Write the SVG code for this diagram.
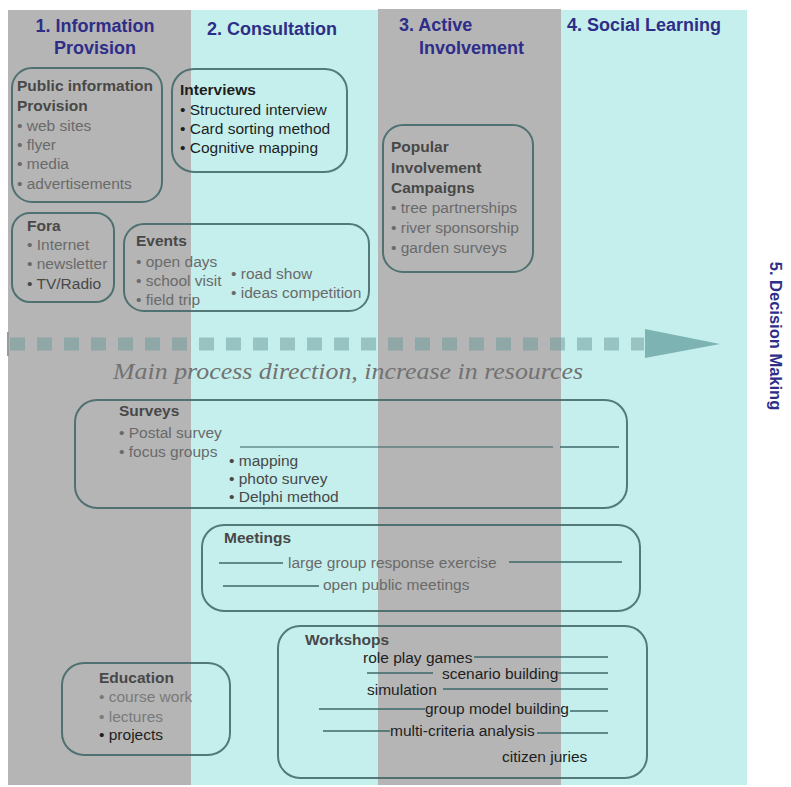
<svg xmlns="http://www.w3.org/2000/svg" width="791" height="787" viewBox="0 0 791 787">
<style>
.hdr{font-family:"Liberation Sans",Arial,sans-serif;font-weight:bold;font-size:18px;fill:#2e2e88}
.box{fill:none;stroke:#3e6565;stroke-opacity:0.85;stroke-width:2}
.t{font-family:"Liberation Sans",Arial,sans-serif;font-size:15.5px}
.b{font-weight:bold}
.g{fill:#6a6a6a}
.d{fill:#484848}
.k{fill:#1e1e1e}
.ln{stroke:#3d6868;stroke-width:1.5;fill:none}
</style>
<rect x="0" y="0" width="791" height="787" fill="#ffffff"/>
<g id="columns">
<rect x="8" y="10" width="183" height="775" fill="#b5b5b5"/>
<rect x="191" y="10" width="187" height="775" fill="#c5efec"/>
<rect x="378" y="9" width="183" height="776" fill="#b5b5b5"/>
<rect x="561" y="10" width="186" height="775" fill="#c5efec"/>
</g>
<g id="headers">
<text class="hdr" x="95" y="32" text-anchor="middle">1. Information</text>
<text class="hdr" x="95" y="54" text-anchor="middle">Provision</text>
<text class="hdr" x="207" y="35">2. Consultation</text>
<text class="hdr" x="399" y="31">3. Active</text>
<text class="hdr" x="419" y="54">Involvement</text>
<text class="hdr" x="567" y="31">4. Social Learning</text>
<text class="hdr" transform="translate(770,336) rotate(90)" text-anchor="middle" style="font-size:16.5px">5. Decision Making</text>
</g>
<g id="connectors">
<path d="M8 332 V356" stroke="#9a9a9a" stroke-width="2"/>
<line x1="10" y1="344" x2="644" y2="344" stroke="#6a9a9a" stroke-opacity="0.5" stroke-width="13" stroke-dasharray="15 12"/>
<polygon points="645,329 720,344 645,358" fill="#6aa4a4" fill-opacity="0.8"/>
<line class="ln" x1="240" y1="447" x2="553" y2="447" stroke-opacity="0.7"/>
<line class="ln" x1="560" y1="447" x2="619" y2="447" stroke-width="2"/>
<line class="ln" x1="219" y1="563" x2="283" y2="563"/>
<line class="ln" x1="509" y1="562" x2="622" y2="562"/>
<line class="ln" x1="223" y1="586" x2="319" y2="586"/>
<line class="ln" x1="474" y1="657" x2="608" y2="657"/>
<line class="ln" x1="367" y1="673" x2="433" y2="673"/>
<line class="ln" x1="558" y1="673" x2="608" y2="673"/>
<line class="ln" x1="443" y1="689" x2="608" y2="689"/>
<line class="ln" x1="319" y1="709" x2="425" y2="709"/>
<line class="ln" x1="570" y1="711" x2="608" y2="711"/>
<line class="ln" x1="323" y1="731" x2="390" y2="731"/>
<line class="ln" x1="537" y1="733" x2="608" y2="733"/>
</g>
<text x="348" y="379" text-anchor="middle" font-family="'Liberation Serif','Times New Roman',serif" font-style="italic" font-size="23" fill="#727272" textLength="470" lengthAdjust="spacingAndGlyphs">Main process direction, increase in resources</text>
<g id="public-info">
<rect class="box" x="12" y="68" width="150" height="134" rx="20"/>
<text class="t b d" x="17" y="91">Public information</text>
<text class="t b d" x="17" y="111">Provision</text>
<text class="t g" x="17" y="131">• web sites</text>
<text class="t g" x="17" y="150">• flyer</text>
<text class="t g" x="17" y="169">• media</text>
<text class="t g" x="17" y="189">• advertisements</text>
</g>
<g id="interviews">
<rect class="box" x="172" y="69" width="175" height="103" rx="22"/>
<text class="t b k" x="180" y="95">Interviews</text>
<text class="t k" x="180" y="115">• Structured interview</text>
<text class="t k" x="180" y="134">• Card sorting method</text>
<text class="t k" x="180" y="153">• Cognitive mapping</text>
</g>
<g id="fora">
<rect class="box" x="12" y="213" width="102" height="89" rx="18"/>
<text class="t b d" x="27" y="231">Fora</text>
<text class="t g" x="27" y="250">• Internet</text>
<text class="t g" x="27" y="269">• newsletter</text>
<text class="t d" x="27" y="289">• TV/Radio</text>
</g>
<g id="events">
<rect class="box" x="124" y="224" width="245" height="87" rx="20"/>
<text class="t b d" x="136" y="246">Events</text>
<text class="t g" x="136" y="267">• open days</text>
<text class="t g" x="136" y="286">• school visit</text>
<text class="t g" x="136" y="305">• field trip</text>
<text class="t g" x="231" y="279">• road show</text>
<text class="t g" x="231" y="298">• ideas competition</text>
</g>
<g id="popular">
<rect class="box" x="383" y="125" width="150" height="147" rx="20"/>
<text class="t b d" x="391" y="152">Popular</text>
<text class="t b d" x="391" y="173">Involvement</text>
<text class="t b d" x="391" y="193">Campaigns</text>
<text class="t g" x="391" y="213">• tree partnerships</text>
<text class="t g" x="391" y="233">• river sponsorship</text>
<text class="t g" x="391" y="253">• garden surveys</text>
</g>
<g id="surveys">
<rect class="box" x="75" y="400" width="552" height="108" rx="22"/>
<text class="t b d" x="119" y="416">Surveys</text>
<text class="t g" x="119" y="438">• Postal survey</text>
<text class="t g" x="119" y="457">• focus groups</text>
<text class="t d" x="229" y="466">• mapping</text>
<text class="t d" x="229" y="484">• photo survey</text>
<text class="t d" x="229" y="502">• Delphi method</text>
</g>
<g id="meetings">
<rect class="box" x="202" y="525" width="438" height="86" rx="22"/>
<text class="t b d" x="224" y="543">Meetings</text>
<text class="t g" x="288" y="568">large group response exercise</text>
<text class="t g" x="323" y="590">open public meetings</text>
</g>
<g id="workshops">
<rect class="box" x="278" y="626" width="369" height="152" rx="22"/>
<text class="t b d" x="305" y="645">Workshops</text>
<text class="t k" x="363" y="663">role play games</text>
<text class="t k" x="442" y="679">scenario building</text>
<text class="t k" x="367" y="695">simulation</text>
<text class="t k" x="425" y="714">group model building</text>
<text class="t k" x="390" y="736">multi-criteria analysis</text>
<text class="t k" x="502" y="762">citizen juries</text>
</g>
<g id="education">
<rect class="box" x="62" y="663" width="168" height="92" rx="22"/>
<text class="t b d" x="99" y="683">Education</text>
<text class="t g" x="99" y="702" style="fill:#7a7a7a">• course work</text>
<text class="t g" x="99" y="722" style="fill:#7a7a7a">• lectures</text>
<text class="t k" x="99" y="740">• projects</text>
</g>
</svg>
